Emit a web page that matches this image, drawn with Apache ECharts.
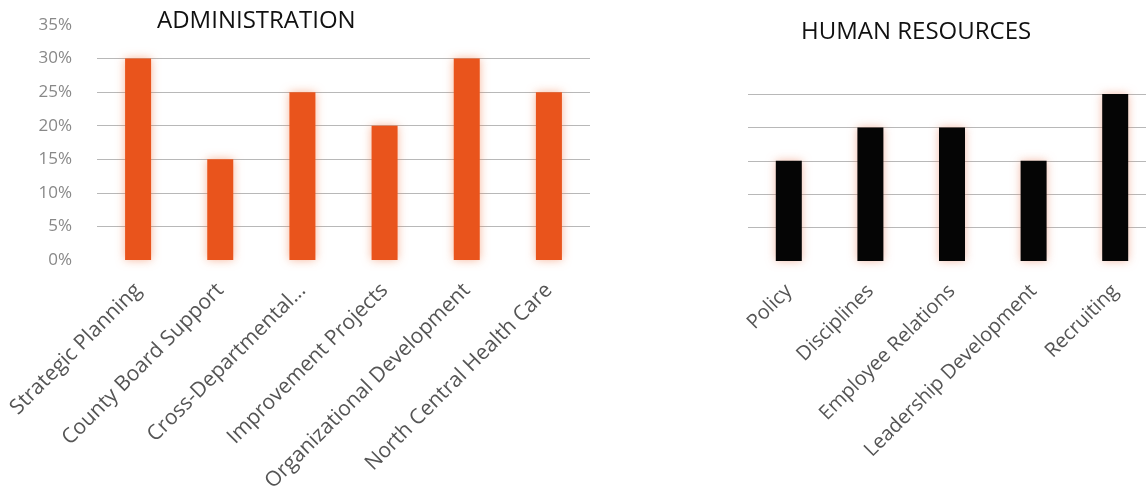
<!DOCTYPE html>
<html lang="en">
<head>
    <meta charset="UTF-8">
    <script src="https://cdn.jsdelivr.net/npm/echarts@6/dist/echarts.min.js"></script>
    <style>
        html, body { margin: 0; padding: 0; background: #fff; }
        #main { width: 1146px; height: 489px; }
    </style>
</head>
<body>
<div id="main"></div>
<script>
    // Administration
    var adminCategories = ['Strategic Planning', 'County Board Support', 'Cross-Departmental...', 'Improvement Projects', 'Organizational Development', 'North Central Health Care'];
    var adminValues = [30, 15, 25, 20, 30, 25];
    // Human resources
    var hrCategories = ['Policy', 'Disciplines', 'Employee Relations', 'Leadership Development', 'Recruiting'];
    var hrValues = [15, 20, 20, 15, 25];

    var fontFam = '"Open Sans", Lato, sans-serif';
    var gridColor = '#b8b8b8';

    var myChart = echarts.init(document.getElementById('main'));
    var option = {
        animation: false,
        title: [
            {
                text: 'ADMINISTRATION', left: 152, top: 4,
                textStyle: {fontFamily: fontFam, fontSize: 24, fontWeight: 'normal', color: '#111'}
            },
            {
                text: 'HUMAN RESOURCES', left: 796, top: 15,
                textStyle: {fontFamily: fontFam, fontSize: 24, fontWeight: 'normal', color: '#111'}
            }
        ],
        // labels run off the bottom edge in the picture, so don't let the grid shrink
        grid: [
            {left: 97, top: 25, width: 493, height: 235, outerBoundsMode: 'none', containLabel: false},
            {left: 748, top: 94, width: 408, height: 167, outerBoundsMode: 'none', containLabel: false}
        ],
        xAxis: [
            {
                type: 'category', gridIndex: 0, data: adminCategories,
                axisLine: {show: false}, axisTick: {show: false},
                axisLabel: {
                    interval: 0, rotate: 45, margin: 27,
                    fontFamily: fontFam, fontSize: 21, color: '#555'
                }
            },
            {
                type: 'category', gridIndex: 1, data: hrCategories,
                axisLine: {show: false}, axisTick: {show: false},
                axisLabel: {
                    interval: 0, rotate: 45, margin: 27,
                    fontFamily: fontFam, fontSize: 20, color: '#555'
                }
            }
        ],
        yAxis: [
            {
                type: 'value', gridIndex: 0, min: 0, max: 35, interval: 5,
                axisLine: {show: false}, axisTick: {show: false},
                axisLabel: {
                    formatter: '{value}%', margin: 25,
                    fontFamily: fontFam, fontSize: 17, color: '#888'
                },
                // hide the 0% and 35% lines like the picture
                splitLine: {lineStyle: {color: ['transparent', gridColor, gridColor, gridColor, gridColor, gridColor, gridColor, 'transparent']}}
            },
            {
                type: 'value', gridIndex: 1, min: 0, max: 25, interval: 5,
                axisLine: {show: false}, axisTick: {show: false},
                axisLabel: {show: false},
                splitLine: {lineStyle: {color: ['transparent', gridColor, gridColor, gridColor, gridColor, gridColor]}}
            }
        ],
        series: [
            {
                type: 'bar', xAxisIndex: 0, yAxisIndex: 0, data: adminValues,
                barWidth: 26,
                itemStyle: {color: '#e9541c', shadowColor: 'rgba(240,120,70,0.55)', shadowBlur: 10}
            },
            {
                type: 'bar', xAxisIndex: 1, yAxisIndex: 1, data: hrValues,
                barWidth: 26,
                itemStyle: {color: '#050505', shadowColor: 'rgba(235,140,110,0.6)', shadowBlur: 10}
            }
        ]
    };
    myChart.setOption(option);
</script>
</body>
</html>
